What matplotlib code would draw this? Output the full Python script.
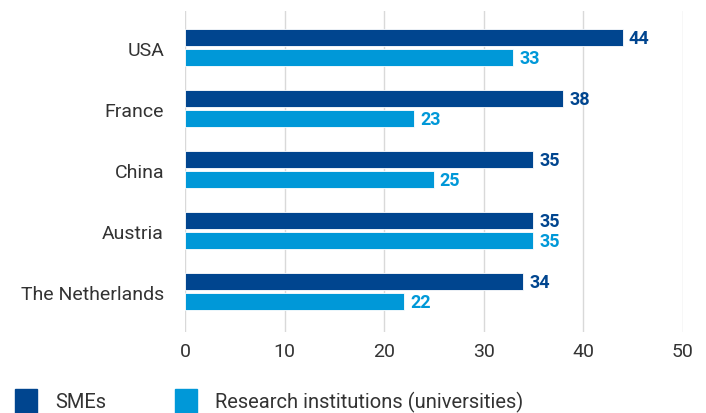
import matplotlib
matplotlib.use("Agg")
import matplotlib.pyplot as plt
import numpy as np
from matplotlib.patches import Patch

countries = ["USA", "France", "China", "Austria", "The Netherlands"]
smes = [44, 38, 35, 35, 34]
research = [33, 23, 25, 35, 22]
series_names = ["SMEs", "Research institutions (universities)"]

dark = "#00458F"
light = "#0098D8"

plt.rcParams['font.family'] = ['Roboto', 'DejaVu Sans']

fig = plt.figure(figsize=(7.06, 4.14), dpi=100)
ax = fig.add_axes([0.262, 0.196, 0.705, 0.775])

y = np.arange(len(countries))
h = 0.27
off = 0.165
ax.barh(y - off, smes, height=h, color=dark, edgecolor="white", linewidth=0.6, zorder=3)
ax.barh(y + off, research, height=h, color=light, edgecolor="white", linewidth=0.6, zorder=3)

for yi, v in zip(y, smes):
    ax.text(v + 0.6, yi - off, str(v), va="center", ha="left", color=dark,
            fontsize=13, fontweight="bold")
for yi, v in zip(y, research):
    ax.text(v + 0.6, yi + off, str(v), va="center", ha="left", color=light,
            fontsize=13, fontweight="bold")

ax.set_xlim(0, 50)
ax.set_ylim(4.66, -0.6)
ax.set_xticks(range(0, 51, 10))
ax.set_yticks(y)
ax.set_yticklabels(countries)
ax.tick_params(axis="both", length=0, labelsize=14, colors="#333333")
ax.tick_params(axis="y", pad=15)
ax.tick_params(axis="x", pad=7)
ax.grid(axis="x", color="#d9d9d9", linewidth=1, zorder=0)
for s in ax.spines.values():
    s.set_visible(False)

handles = [Patch(color=dark, label=series_names[0]),
           Patch(color=light, label=series_names[1])]
fig.legend(handles=handles, loc="lower left", bbox_to_anchor=(-0.004, -0.044), ncol=2,
           frameon=False, fontsize=14.5, handlelength=1.1, handleheight=1.5,
           handletextpad=0.9, columnspacing=3.4, labelcolor="#333333")

fig.savefig("out.png", dpi=100)
